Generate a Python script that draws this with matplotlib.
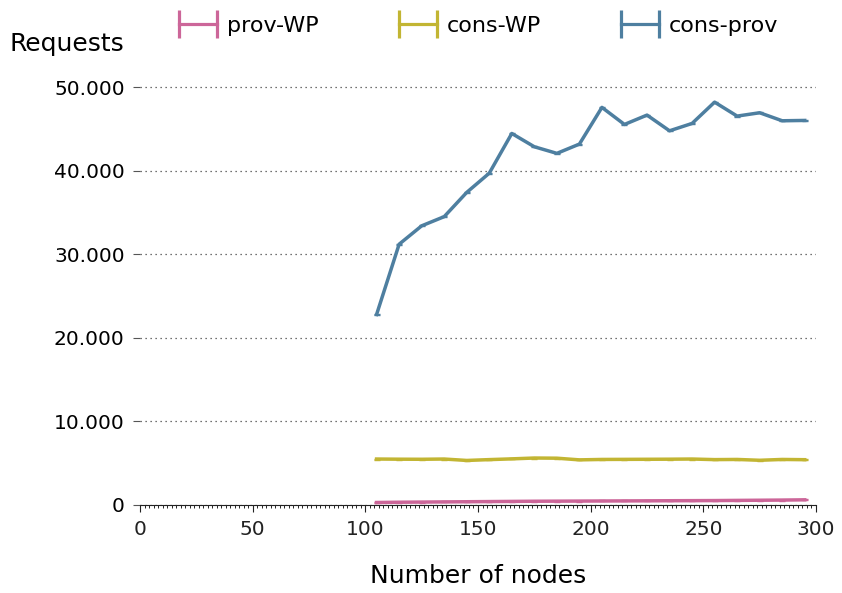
import matplotlib
matplotlib.use("Agg")
import matplotlib.pyplot as plt
from matplotlib.lines import Line2D
from matplotlib.ticker import FuncFormatter, MultipleLocator

# Number of nodes
nodes = [105, 115, 125, 135, 145, 155, 165, 175, 185, 195,
         205, 215, 225, 235, 245, 255, 265, 275, 285, 295]

# Requests per series
prov_wp = [300, 330, 350, 370, 390, 410, 430, 450, 460, 470,
           480, 490, 500, 510, 520, 530, 550, 570, 590, 620]
cons_wp = [5500, 5480, 5470, 5500, 5330, 5430, 5520, 5620, 5600, 5400,
           5450, 5460, 5470, 5480, 5500, 5430, 5450, 5350, 5450, 5420]
cons_prov = [22800, 31200, 33400, 34500, 37400, 39700, 44450, 42860, 42070, 43180,
             47570, 45530, 46650, 44770, 45650, 48200, 46530, 46930, 45970, 46010]

series = [
    ("prov-WP", prov_wp, "#cc6699"),
    ("cons-WP", cons_wp, "#c2b533"),
    ("cons-prov", cons_prov, "#4e7fa0"),
]

plt.rcParams["font.family"] = "DejaVu Sans"

fig = plt.figure(figsize=(8.42, 5.93), dpi=100)
ax = fig.add_axes([140 / 842, 1 - 505 / 593, 676 / 842, 420 / 593])

handles = []
for name, vals, col in series:
    ax.errorbar(nodes, vals, yerr=[60] * len(vals), color=col, lw=2.5,
                elinewidth=1.2, capsize=2, capthick=1)
    # legend proxy: horizontal bar with end caps, like |-|
    handles.append(Line2D([], [], color=col, lw=2.3, marker="|",
                          markersize=20, mew=2.3, label=name))

ax.set_xlim(0, 300)
ax.set_ylim(0, 50250)
ax.xaxis.set_major_locator(MultipleLocator(50))
ax.xaxis.set_minor_locator(MultipleLocator(2))
ax.yaxis.set_major_locator(MultipleLocator(10000))
ax.yaxis.set_major_formatter(
    FuncFormatter(lambda v, p: f"{int(v):,}".replace(",", ".")))

for s in ("top", "right", "left"):
    ax.spines[s].set_visible(False)
ax.spines["bottom"].set_color("#222222")
ax.tick_params(axis="both", labelsize=14.5, colors="#222222")
ax.tick_params(axis="x", which="major", length=5, pad=6)
ax.tick_params(axis="x", which="minor", length=2.5, width=0.6)
ax.tick_params(axis="y", length=5, width=0.8, colors="#555555",
               labelcolor="black", pad=6)
ax.grid(axis="y", linestyle=(0, (1, 3)), color="#444444", lw=0.9)
ax.set_axisbelow(True)

ax.set_xlabel("Number of nodes", fontsize=18, labelpad=18)
fig.text(10 / 842, 1 - 44 / 593, "Requests", fontsize=18, va="center", ha="left")

ax.legend(handles=handles, loc="center", bbox_to_anchor=(0.496, 1 + 59 / 420),
          ncol=3, frameon=False, fontsize=16, numpoints=2,
          columnspacing=3.3, handlelength=2.3, handletextpad=0.15)

fig.savefig("out.png", dpi=100)
